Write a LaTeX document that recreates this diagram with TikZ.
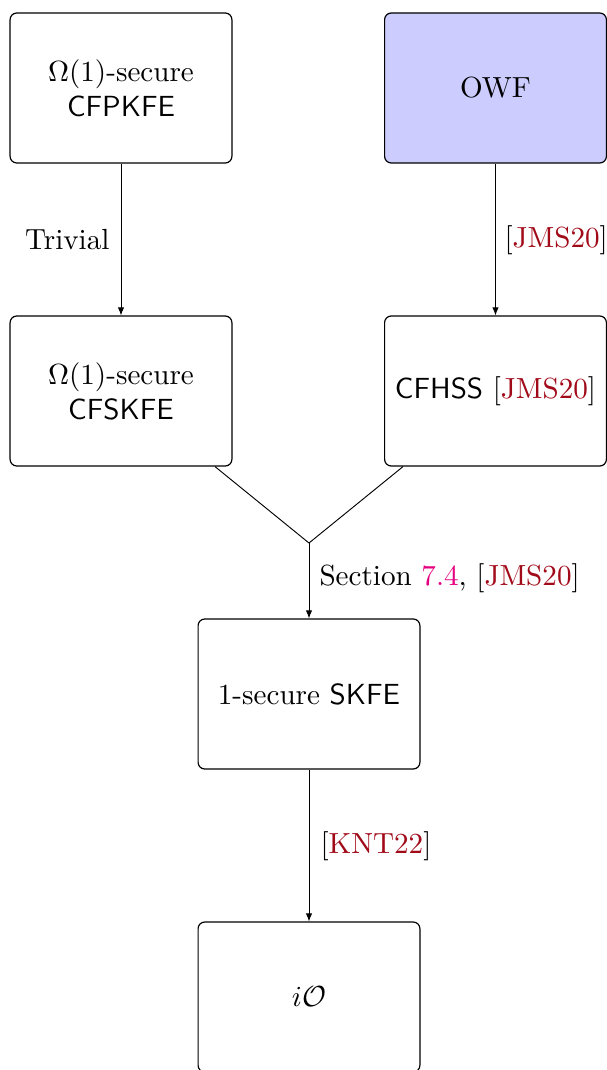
\documentclass[tikz,border=0pt]{standalone}
\usetikzlibrary{arrows.meta,calc}
\definecolor{citered}{rgb}{0.63,0.04,0.1}
\definecolor{linkmag}{rgb}{0.9,0,0.5}
\begin{document}
\begin{tikzpicture}[x=0.376pt,y=-0.376pt,
  box/.style={draw,rounded corners=2.5pt,minimum width=83.4pt,minimum height=56.4pt,align=center,font=\fontsize{10.95}{13.2}\selectfont,line width=0.45pt},
  lbl/.style={font=\fontsize{10.95}{13.2}\selectfont,inner sep=0pt},
  arr/.style={-{Latex[length=3pt,width=2.4pt]},line width=0.35pt},
  cite/.style={text=citered}]
\useasboundingbox (0,0) rectangle (606,1070);
\node[box] (a) at (121,88) {$\Omega(1)$-secure\\\textsf{CFPKFE}};
\node[box,fill=blue!20] (b) at (495.5,88) {OWF};
\node[box] (c) at (121,391) {$\Omega(1)$-secure\\\textsf{CFSKFE}};
\node[box] (d) at (495.5,391) {\textsf{CFHSS} [\textcolor{citered}{JMS20}]};
\node[box] (e) at (309,694) {1-secure \textsf{SKFE}};
\node[box] (f) at (309,997) {$i\mathcal{O}$};
\draw[arr] (a) -- (c);
\node[lbl,anchor=east] (la) at (110,240) {Trivial};
\draw[arr] (b) -- (d);
\node[lbl,anchor=west] (lb) at (504,240) {[\textcolor{citered}{JMS20}]};
\coordinate (m) at (309,543);
\coordinate (c1) at ($(c.south)+(94,0)$);
\coordinate (d1) at ($(d.south)+(-92.5,0)$);
\draw[line width=0.35pt] (c1) -- (m) -- (d1);
\draw[arr] (m) -- (e);
\node[lbl,anchor=west] (lm) at (319,578) {Section \textcolor{linkmag}{7.4}, [\textcolor{citered}{JMS20}]};
\draw[arr] (e) -- (f);
\node[lbl,anchor=west] (le) at (320,846) {[\textcolor{citered}{KNT22}]};
\end{tikzpicture}
\end{document}
